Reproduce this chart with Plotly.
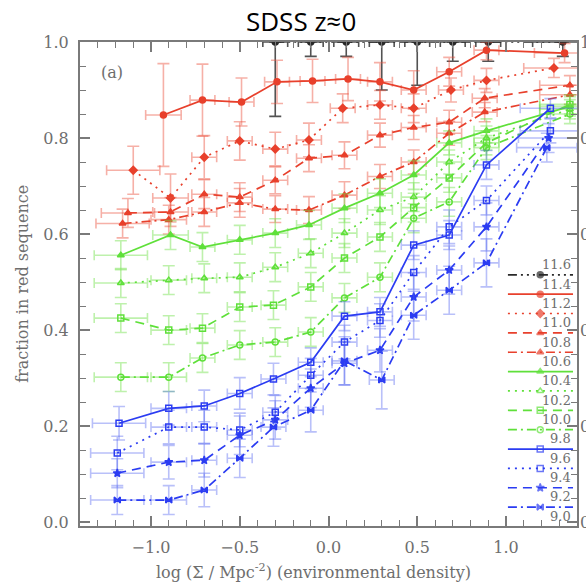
import plotly.graph_objects as go

# Stellar-mass bin edges (log M*) shown in the key
MASS_EDGES = ["11.6", "11.4", "11.2", "11.0", "10.8", "10.6", "10.4",
              "10.2", "10.0", "9.8", "9.6", "9.4", "9.2", "9.0"]

# Horizontal spread of each density bin
XERR = [0.15, 0.10, 0.07, 0.07, 0.07, 0.07, 0.07, 0.07, 0.07, 0.07, 0.07, 0.17]

# Red-sequence fraction vs environmental density, one series per mass bin
x_116 = [-0.30, -0.10, 0.10, 0.30, 0.50, 0.70, 0.90, 1.32]
y_116 = [1.0, 1.0, 1.0, 1.0, 1.0, 1.0, 1.0, 1.0]
e_116 = [0.155, 0.03, 0.03, 0.10, 0.09, 0.04, 0.04, 0.03]

x_114 = [-0.93, -0.71, -0.49, -0.29, -0.09, 0.11, 0.29, 0.48, 0.68, 0.89, 1.33]
y_114 = [0.848, 0.879, 0.875, 0.917, 0.919, 0.923, 0.917, 0.900, 0.938, 0.983, 0.977]
e_114 = [0.107, 0.075, 0.05, 0.045, 0.045, 0.045, 0.04, 0.04, 0.03, 0.02, 0.02]

x_112 = [-1.10, -0.89, -0.70, -0.50, -0.30, -0.11, 0.08, 0.29, 0.48, 0.69, 0.89, 1.27]
y_112 = [0.733, 0.675, 0.760, 0.794, 0.777, 0.796, 0.862, 0.869, 0.862, 0.900, 0.920, 0.946]
e_112 = [0.05, 0.05, 0.045, 0.04, 0.035, 0.035, 0.03, 0.03, 0.03, 0.025, 0.025, 0.02]

x_110 = [-1.13, -0.89, -0.70, -0.50, -0.30, -0.11, 0.09, 0.29, 0.48, 0.68, 0.88, 1.36]
y_110 = [0.644, 0.646, 0.683, 0.677, 0.712, 0.758, 0.764, 0.806, 0.822, 0.833, 0.883, 0.910]
e_110 = [0.03, 0.03, 0.03, 0.03, 0.028, 0.028, 0.028, 0.025, 0.025, 0.025, 0.02, 0.02]

x_108 = [-1.16, -0.90, -0.70, -0.50, -0.30, -0.11, 0.09, 0.29, 0.48, 0.68, 0.88, 1.36]
y_108 = [0.622, 0.630, 0.646, 0.665, 0.652, 0.650, 0.681, 0.720, 0.750, 0.810, 0.854, 0.890]
e_108 = [0.03, 0.03, 0.03, 0.03, 0.028, 0.028, 0.028, 0.025, 0.025, 0.025, 0.02, 0.02]

x_106 = [-1.17, -0.89, -0.71, -0.50, -0.30, -0.11, 0.09, 0.29, 0.48, 0.68, 0.89, 1.36]
y_106 = [0.556, 0.598, 0.573, 0.588, 0.602, 0.619, 0.654, 0.685, 0.723, 0.790, 0.815, 0.866]
e_106 = [0.03, 0.03, 0.03, 0.03, 0.03, 0.03, 0.03, 0.03, 0.03, 0.025, 0.025, 0.02]

x_104 = [-1.17, -0.90, -0.70, -0.50, -0.30, -0.10, 0.09, 0.29, 0.48, 0.68, 0.89, 1.36]
y_104 = [0.498, 0.504, 0.508, 0.510, 0.531, 0.560, 0.602, 0.650, 0.677, 0.750, 0.800, 0.860]
e_104 = [0.03, 0.03, 0.03, 0.03, 0.03, 0.03, 0.03, 0.03, 0.03, 0.025, 0.025, 0.02]

x_102 = [-1.17, -0.90, -0.71, -0.50, -0.31, -0.10, 0.09, 0.29, 0.48, 0.68, 0.89, 1.36]
y_102 = [0.425, 0.400, 0.404, 0.448, 0.452, 0.490, 0.550, 0.594, 0.655, 0.717, 0.790, 0.870]
e_102 = [0.03, 0.03, 0.03, 0.03, 0.03, 0.03, 0.03, 0.03, 0.03, 0.03, 0.025, 0.02]

x_100 = [-1.17, -0.90, -0.71, -0.50, -0.30, -0.10, 0.09, 0.29, 0.48, 0.68, 0.89, 1.36]
y_100 = [0.302, 0.302, 0.342, 0.369, 0.375, 0.396, 0.467, 0.510, 0.633, 0.667, 0.780, 0.850]
e_100 = [0.03, 0.03, 0.03, 0.03, 0.03, 0.03, 0.03, 0.03, 0.03, 0.03, 0.025, 0.02]

x_098 = [-1.18, -0.90, -0.70, -0.50, -0.31, -0.10, 0.09, 0.29, 0.48, 0.68, 0.89, 1.25]
y_098 = [0.206, 0.237, 0.242, 0.268, 0.298, 0.333, 0.429, 0.438, 0.577, 0.598, 0.744, 0.862]
e_098 = [0.035, 0.035, 0.033, 0.033, 0.033, 0.03, 0.03, 0.03, 0.03, 0.03, 0.03, 0.02]

x_096 = [-1.19, -0.90, -0.70, -0.50, -0.30, -0.10, 0.09, 0.29, 0.48, 0.68, 0.89, 1.25]
y_096 = [0.144, 0.198, 0.198, 0.192, 0.229, 0.306, 0.375, 0.420, 0.520, 0.615, 0.670, 0.815]
e_096 = [0.035, 0.035, 0.035, 0.035, 0.035, 0.035, 0.035, 0.035, 0.035, 0.035, 0.03, 0.025]

x_094 = [-1.19, -0.90, -0.70, -0.50, -0.30, -0.10, 0.09, 0.29, 0.48, 0.68, 0.89, 1.24]
y_094 = [0.102, 0.125, 0.129, 0.181, 0.213, 0.279, 0.331, 0.358, 0.469, 0.525, 0.615, 0.800]
e_094 = [0.03, 0.035, 0.035, 0.04, 0.04, 0.04, 0.045, 0.045, 0.05, 0.05, 0.05, 0.03]

x_092 = [-1.19, -0.90, -0.70, -0.50, -0.31, -0.10, 0.09, 0.30, 0.48, 0.68, 0.89, 1.23]
y_092 = [0.046, 0.046, 0.067, 0.133, 0.198, 0.233, 0.336, 0.296, 0.431, 0.483, 0.540, 0.780]
e_092 = [0.03, 0.03, 0.035, 0.04, 0.04, 0.045, 0.05, 0.06, 0.05, 0.05, 0.05, 0.03]

SERIES = [
    (x_116, y_116, e_116), (x_114, y_114, e_114), (x_112, y_112, e_112),
    (x_110, y_110, e_110), (x_108, y_108, e_108), (x_106, y_106, e_106),
    (x_104, y_104, e_104), (x_102, y_102, e_102), (x_100, y_100, e_100),
    (x_098, y_098, e_098), (x_096, y_096, e_096), (x_094, y_094, e_094),
    (x_092, y_092, e_092),
]

# Drawing styles
RED, GREEN, BLUE, BLACK = "#e8402c", "#5fe03a", "#2b3cf2", "#2a2a2a"
RED_E, GREEN_E, BLUE_E, BLACK_E = ("rgba(236,80,60,0.45)", "rgba(110,225,70,0.45)",
                                   "rgba(70,90,240,0.38)", "rgba(40,40,40,0.8)")
SOLID, DOT, DASH, DASHDOT = "solid", "2px,5px", "9px,6px", "9px,4px,2px,4px"
DASH3DOT = "9px,4px,2px,4px,2px,4px,2px,4px"
STYLES = [
    (BLACK, BLACK_E, DASH3DOT, "circle"),
    (RED, RED_E, SOLID, "circle"),
    (RED, RED_E, DOT, "diamond"),
    (RED, RED_E, DASH, "triangle-up"),
    (RED, RED_E, DASHDOT, "triangle-up"),
    (GREEN, GREEN_E, SOLID, "triangle-up"),
    (GREEN, GREEN_E, DOT, "triangle-up-open"),
    (GREEN, GREEN_E, DASH, "square-open"),
    (GREEN, GREEN_E, DASHDOT, "circle-open"),
    (BLUE, BLUE_E, SOLID, "square-open"),
    (BLUE, BLUE_E, DOT, "square-open"),
    (BLUE, BLUE_E, DASH, "star"),
    (BLUE, BLUE_E, DASHDOT, "bowtie"),
]

fig = go.Figure()

for (xs, ys, es), (col, ecol, dash, sym) in zip(SERIES, STYLES):
    n = len(xs)
    xe = XERR[len(XERR) - n:] if n < len(XERR) else XERR
    eplus = [min(e, 1.0 - y) for e, y in zip(es, ys)]
    fig.add_trace(go.Scatter(
        x=xs, y=ys, mode="lines+markers", showlegend=False,
        line=dict(color=col, width=1.7, dash=dash),
        marker=dict(color=col, symbol=sym, size=6, line=dict(color=col, width=1.5)),
        error_y=dict(type="data", array=eplus, arrayminus=es, color=ecol,
                     thickness=1.6, width=6),
        error_x=dict(type="data", array=xe, color=ecol, thickness=1.6, width=5),
    ))

# Key: mass-bin line samples on an overlay axis spanning the plot area
key_top, key_step = 0.519, 0.04
for i, (col, ecol, dash, sym) in enumerate(STYLES):
    yy = key_top - i * key_step
    fig.add_trace(go.Scatter(
        x=[0.861, 0.926, 0.992], y=[yy, yy, yy], mode="lines+markers",
        xaxis="x2", yaxis="y3", showlegend=False, hoverinfo="skip",
        line=dict(color=col, width=1.7, dash=dash),
        marker=dict(color=col, symbol=sym, size=[0, 6, 0], line=dict(color=col, width=1.5)),
    ))

# Invisible trace so the right-hand axis is drawn
fig.add_trace(go.Scatter(x=[0], y=[0.5], yaxis="y2", mode="markers",
                         marker=dict(opacity=0), showlegend=False, hoverinfo="skip"))

tickfont = dict(family="DejaVu Serif", size=16, color="#6e6e6e")
axcol = "#7a7a7a"
ann = []
label_top = 0.540
for i, lab in enumerate(MASS_EDGES):
    ann.append(dict(x=0.992, y=label_top - i * key_step, xref="paper", yref="paper",
                    text=lab, showarrow=False, xanchor="right", yanchor="middle",
                    font=dict(family="DejaVu Serif", size=13, color="#6e6e6e")))

ann += [
    dict(x=0.445, y=1.043, xref="paper", yref="paper", text="SDSS z≈0",
         showarrow=False, xanchor="center", yanchor="middle",
         font=dict(family="Open Sans", size=26, color="black")),
    dict(x=0.064, y=0.936, xref="paper", yref="paper", text="(a)",
         showarrow=False, xanchor="center", yanchor="middle",
         font=dict(family="DejaVu Serif", size=16, color="#6e6e6e")),
    dict(x=0.47, y=-0.093, xref="paper", yref="paper",
         text="log (Σ / Mpc<sup>-2</sup>) (environmental density)",
         showarrow=False, xanchor="center", yanchor="middle",
         font=dict(family="DejaVu Serif", size=16, color="#6e6e6e")),
    dict(x=-0.117, y=0.5, xref="paper", yref="paper", text="fraction in red sequence",
         showarrow=False, xanchor="center", yanchor="middle", textangle=-90,
         font=dict(family="DejaVu Serif", size=16, color="#6e6e6e")),
]

YR = [-0.008, 1.0]
fig.update_layout(
    width=586, height=586,
    margin=dict(l=80, r=9, t=42, b=60, autoexpand=False),
    plot_bgcolor="white", paper_bgcolor="white",
    annotations=ann,
    xaxis=dict(range=[-1.4, 1.4], tickvals=[-1.0, -0.5, 0.0, 0.5, 1.0],
               ticktext=["−1.0", "−0.5", "0.0", "0.5", "1.0"],
               ticks="inside", ticklen=10, tickwidth=1.5, tickcolor=axcol,
               minor=dict(dtick=0.1, tick0=0, ticks="inside", ticklen=6, tickcolor=axcol, tickwidth=1.3),
               showline=True, linecolor=axcol, linewidth=2, mirror="ticks",
               showgrid=False, zeroline=False, tickfont=tickfont, ticklabelstandoff=6,
               automargin=False),
    yaxis=dict(range=YR, tickvals=[0.0, 0.2, 0.4, 0.6, 0.8, 1.0],
               ticktext=["0.0", "0.2", "0.4", "0.6", "0.8", "1.0"],
               ticks="inside", ticklen=10, tickwidth=1.5, tickcolor=axcol,
               minor=dict(dtick=0.05, tick0=0, ticks="inside", ticklen=6, tickcolor=axcol, tickwidth=1.3),
               showline=True, linecolor=axcol, linewidth=2, mirror="ticks",
               showgrid=False, zeroline=False, tickfont=tickfont, ticklabelstandoff=6,
               automargin=False),
    yaxis2=dict(range=YR, overlaying="y", side="right",
                tickvals=[0.0, 0.2, 0.4, 0.6, 0.8, 1.0],
                ticktext=["0.0", "0.2", "0.4", "0.6", "0.8", "1.0"],
                ticks="", showline=False, showgrid=False, zeroline=False,
                tickfont=tickfont, ticklabelstandoff=2, automargin=False),
    xaxis2=dict(range=[0, 1], overlaying="x", visible=False, domain=[0, 1], automargin=False),
    yaxis3=dict(range=[0, 1], overlaying="y", visible=False, anchor="x2", automargin=False),
)

fig.write_html("out.html")
